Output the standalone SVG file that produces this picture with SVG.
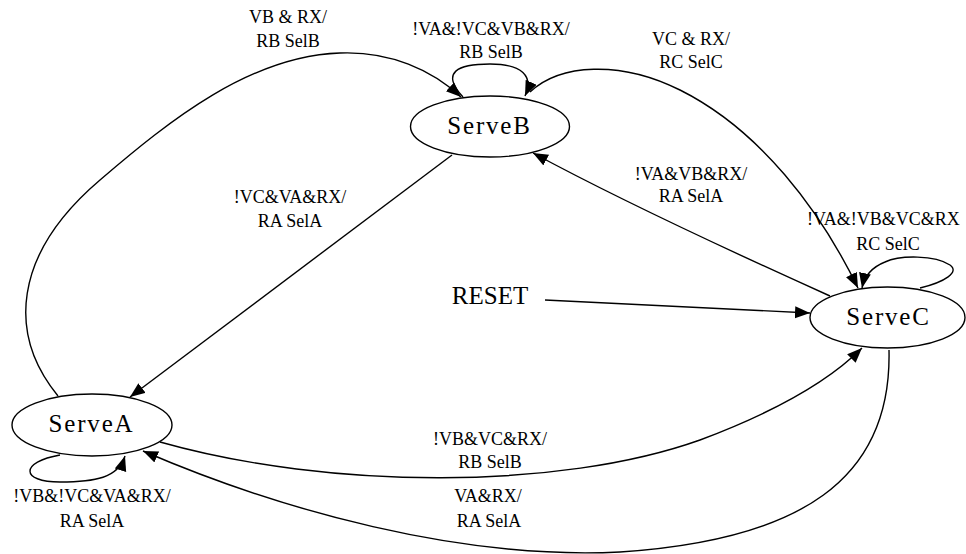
<svg xmlns="http://www.w3.org/2000/svg" width="966" height="554" viewBox="0 0 966 554">
<defs>
<marker id="ah" markerUnits="userSpaceOnUse" markerWidth="18" markerHeight="14" refX="15" refY="6" orient="auto">
<path d="M0,0 L15,6 L0,12 z" fill="#000"/>
</marker>
<style>
.node ellipse{fill:none;stroke:#000;stroke-width:1.4}
.node text{font-family:"Liberation Serif","Times New Roman",serif;font-size:25px;letter-spacing:1.8px;text-anchor:middle;fill:#000}
#edges path{fill:none;stroke:#000;stroke-width:1.4;marker-end:url(#ah)}
.lbl{font-family:"Liberation Serif","Times New Roman",serif;font-size:18px;text-anchor:middle;fill:#000}
</style>
</defs>
<rect width="966" height="554" fill="#fff"/>
<g id="edges">
<path d="M58,396 C8,335 12,255 100,180 C170,120 250,56 340,53 C390,51 432,70 461,97"/>
<path d="M463,97 C440,72 458,64 490,64 C522,64 534,76 525,96"/>
<path d="M530,92 C560,64 620,60 680,90 C760,130 820,210 858,288"/>
<path d="M920,288 C945,282 960,272 950,265 C935,255 900,255 885,262 C870,268 864,278 862,288"/>
<path d="M452,155 L130,397"/>
<path d="M830,296 C750,260 620,200 533,153"/>
<path d="M545,300 L810,313"/>
<path d="M160,442 C330,490 560,490 700,440 C780,410 830,380 862,348"/>
<path d="M889,350 C892,480 800,540 620,552 C460,560 280,510 143,451"/>
<path d="M60,455 C20,462 20,482 60,482 C95,482 118,478 125,456"/>
</g>
<g id="labels">
<text class="lbl" x="288" y="23">VB &amp; RX/</text>
<text class="lbl" x="288" y="47">RB SelB</text>
<text class="lbl" x="491" y="35">!VA&amp;!VC&amp;VB&amp;RX/</text>
<text class="lbl" x="491" y="58">RB SelB</text>
<text class="lbl" x="691" y="45">VC &amp; RX/</text>
<text class="lbl" x="691" y="68">RC SelC</text>
<text class="lbl" x="691" y="180">!VA&amp;VB&amp;RX/</text>
<text class="lbl" x="691" y="202">RA SelA</text>
<text class="lbl" x="807" y="225" style="text-anchor:start">!VA&amp;!VB&amp;VC&amp;RX</text>
<text class="lbl" x="888" y="250">RC SelC</text>
<text class="lbl" x="290" y="203">!VC&amp;VA&amp;RX/</text>
<text class="lbl" x="290" y="227">RA SelA</text>
<text class="lbl" x="490" y="445">!VB&amp;VC&amp;RX/</text>
<text class="lbl" x="490" y="468">RB SelB</text>
<text class="lbl" x="488" y="502">VA&amp;RX/</text>
<text class="lbl" x="489" y="527">RA SelA</text>
<text class="lbl" x="92" y="502">!VB&amp;!VC&amp;VA&amp;RX/</text>
<text class="lbl" x="92" y="527">RA SelA</text>
</g>
<g id="reset">
<text x="490" y="304" style="font-family:'Liberation Serif','Times New Roman',serif;font-size:25px;text-anchor:middle;fill:#000">RESET</text>
</g>
<g id="ServeB" class="node">
<ellipse cx="490" cy="126.5" rx="79.5" ry="30.5"/>
<text x="489.5" y="134">ServeB</text>
</g>
<g id="ServeC" class="node">
<ellipse cx="887.5" cy="317.5" rx="77.5" ry="30.5"/>
<text x="888.5" y="325">ServeC</text>
</g>
<g id="ServeA" class="node">
<ellipse cx="92" cy="425" rx="80" ry="31"/>
<text x="91.5" y="432">ServeA</text>
</g>
</svg>
